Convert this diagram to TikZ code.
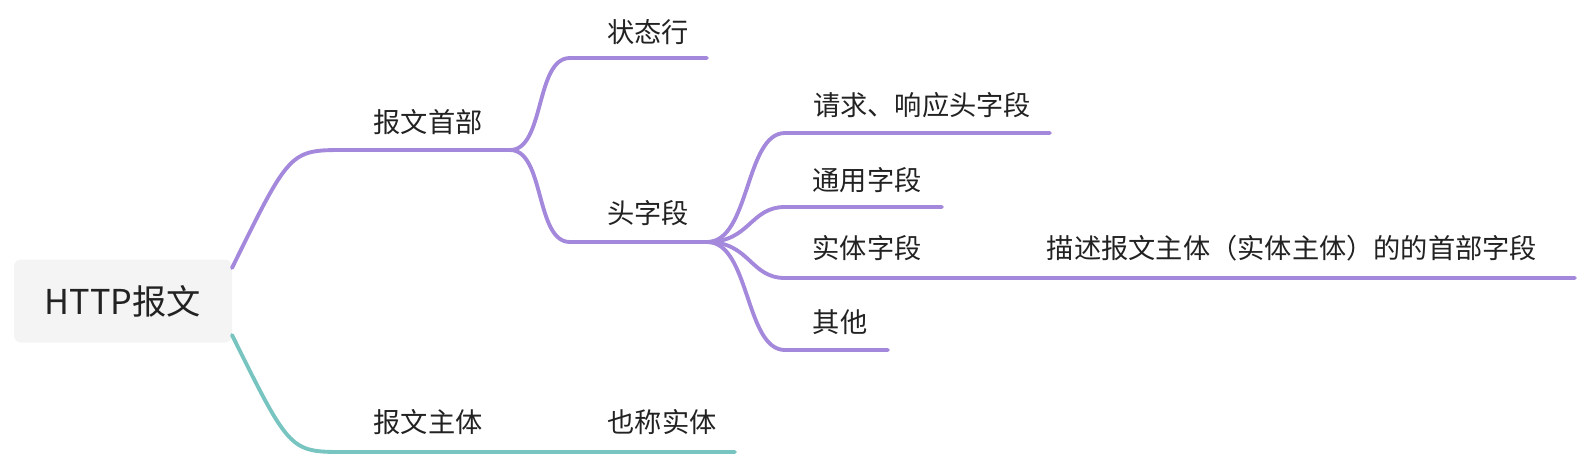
\documentclass[tikz,border=0pt]{standalone}
\usepackage{fontspec}
\setmainfont{Noto Sans CJK SC}
\begin{document}
\begin{tikzpicture}[
        x=0.02cm, y=-0.02cm,
        purp/.style={line width=2.2pt, draw={rgb,255:red,163;green,136;blue,219}, line cap=round},
        teal/.style={line width=2.2pt, draw={rgb,255:red,120;green,196;blue,192}, line cap=round},
        label/.style={font=\fontsize{15.5}{17}\selectfont, text={rgb,255:red,34;green,34;blue,34}, inner sep=0pt}
      ]
\useasboundingbox (0,0) rectangle (1594,464);

% Root
        \node[fill={rgb,255:red,244;green,244;blue,244}, rounded corners=4pt, minimum width=218*0.02cm,
          minimum height=83*0.02cm, font=\fontsize{19.5}{21}\selectfont, text={rgb,255:red,34;green,34;blue,34}]
          (root) at (123,301) {HTTP报文};
        \coordinate (rootA) at (232,268);
        \coordinate (rootB) at (232,335);

% Anchors
        \coordinate (head) at (510,150);
        \coordinate (status) at (707,58);
        \coordinate (fields) at (707,242);
        \coordinate (body) at (735,452);

% Purple branch
        \draw[purp] (rootA) .. controls (290,150) .. (345,150) -- (head);
        \draw[purp] (head) .. controls (545,150) and (535,58) .. (570,58) -- (status);
        \draw[purp] (head) .. controls (545,150) and (535,242) .. (570,242) -- (fields);
        \draw[purp] (fields) .. controls (750,242) and (745,133) .. (785,133) -- (1050,133);
        \draw[purp] (fields) .. controls (750,242) and (750,207) .. (785,207) -- (942,207);
        \draw[purp] (fields) .. controls (750,242) and (750,278) .. (785,278) -- (1575,278);
        \draw[purp] (fields) .. controls (750,242) and (745,350) .. (785,350) -- (888,350);

% Teal branch
        \draw[teal] (rootB) .. controls (290,452) .. (345,452) -- (body);

% Labels
        \node[label] (lhead) at (428,122) {报文首部};
        \node[label] (lstatus) at (648,32) {状态行};
        \node[label] (lfields) at (648,213) {头字段};
        \node[label] (lreq) at (922,105) {请求、响应头字段};
        \node[label] (lgen) at (867,180) {通用字段};
        \node[label] (lent) at (867,248) {实体字段};
        \node[label] (ldesc) at (1292,248) {描述报文主体（实体主体）的的首部字段};
        \node[label] (lother) at (840,322) {其他};
        \node[label] (lbody) at (428,422) {报文主体};
        \node[label] (lalias) at (662,422) {也称实体};

      \end{tikzpicture}
\end{document}
